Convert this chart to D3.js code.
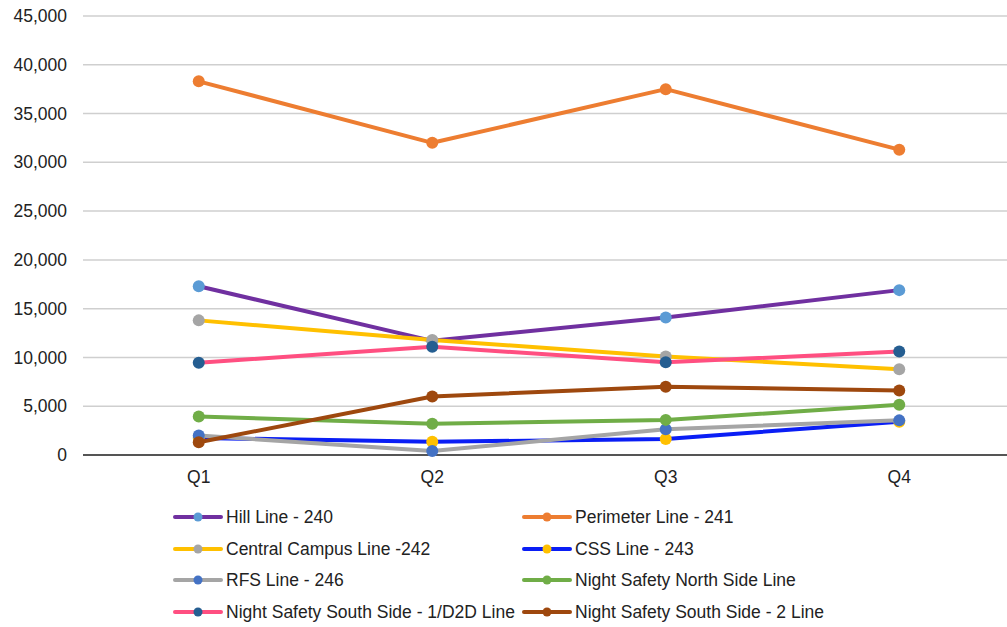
<!DOCTYPE html>
<html>
<head>
<meta charset="utf-8">
<script src="https://cdn.jsdelivr.net/npm/d3@7"></script>
<style>
  html, body { margin: 0; padding: 0; background: #fff; }
  svg { display: block; font-family: "Liberation Sans", Arial, sans-serif; }
</style>
</head>
<body>
<svg id="chart" width="1007" height="627"></svg>
<script>
const categories = ["Q1", "Q2", "Q3", "Q4"];
const seriesNames = [
  "Hill Line - 240",
  "Perimeter Line - 241",
  "Central Campus Line -242",
  "CSS Line - 243",
  "RFS Line - 246",
  "Night Safety North Side Line",
  "Night Safety South Side - 1/D2D Line",
  "Night Safety South Side - 2 Line"
];
const hillValues = [17300, 11700, 14100, 16900];
const perimeterValues = [38300, 32000, 37500, 31300];
const centralValues = [13800, 11800, 10100, 8800];
const cssValues = [1750, 1350, 1650, 3400];
const rfsValues = [2000, 400, 2650, 3550];
const northValues = [3950, 3200, 3600, 5150];
const south1Values = [9450, 11100, 9500, 10600];
const south2Values = [1300, 6000, 7000, 6600];
const yTicks = [0, 5000, 10000, 15000, 20000, 25000, 30000, 35000, 40000, 45000];

const lineColors = ["#7030a0", "#ed7d31", "#ffc000", "#0a1ef5", "#a5a5a5", "#70ad47", "#ff4f81", "#9e480e"];
const markerColors = ["#5b9bd5", "#ed7d31", "#a5a5a5", "#ffc000", "#4472c4", "#70ad47", "#255e91", "#9e480e"];
const allValues = [hillValues, perimeterValues, centralValues, cssValues, rfsValues, northValues, south1Values, south2Values];

const series = seriesNames.map((name, i) => ({ name, values: allValues[i], line: lineColors[i], marker: markerColors[i] }));

const svg = d3.select("#chart");
const x = d3.scaleBand().domain(categories).range([82, 1016]);
const y = d3.scaleLinear().domain([0, 45000]).range([455, 16]);
const FS = 17.5;

// gridlines
svg.append("g").selectAll("line").data(yTicks.filter(d => d > 0)).join("line")
  .attr("x1", 83).attr("x2", 1007)
  .attr("y1", d => y(d)).attr("y2", d => y(d))
  .attr("stroke", "#cfcfcf").attr("stroke-width", 1.5);

// y axis labels
const yAxis = d3.axisLeft(y).tickValues(yTicks).tickFormat(d3.format(",")).tickSize(0).tickPadding(0);
const yg = svg.append("g").attr("transform", "translate(67,0)").call(yAxis);
yg.select(".domain").remove();
yg.selectAll("text").attr("font-size", FS).attr("fill", "#222").attr("font-family", "Liberation Sans, Arial, sans-serif");

// baseline
svg.append("line").attr("x1", 83).attr("x2", 1007).attr("y1", y(0)).attr("y2", y(0))
  .attr("stroke", "#555").attr("stroke-width", 2);

// x axis labels
const xAxis = d3.axisBottom(x).tickSize(0).tickPadding(0);
const xg = svg.append("g").attr("transform", "translate(0,477)").call(xAxis);
xg.select(".domain").remove();
xg.selectAll("text").attr("font-size", FS).attr("fill", "#222").attr("dy", "0.35em").attr("font-family", "Liberation Sans, Arial, sans-serif");

const line = d3.line().x((d, i) => x(categories[i]) + x.bandwidth() / 2).y(d => y(d));

const sg = svg.append("g").selectAll("g").data(series).join("g");
sg.append("path")
  .attr("d", d => line(d.values))
  .attr("fill", "none").attr("stroke", d => d.line).attr("stroke-width", 4)
  .attr("stroke-linejoin", "round").attr("stroke-linecap", "round");
sg.selectAll("circle").data(d => d.values.map((v, i) => ({ v, i, c: d.marker }))).join("circle")
  .attr("cx", d => x(categories[d.i]) + x.bandwidth() / 2)
  .attr("cy", d => y(d.v)).attr("r", 6).attr("fill", d => d.c);

// legend
const legCols = [175, 524];
const legRows = [517, 549, 580, 612];
const lg = svg.append("g").selectAll("g").data(series).join("g")
  .attr("transform", (d, i) => `translate(${legCols[i % 2]},${legRows[Math.floor(i / 2)]})`);
lg.append("line").attr("x1", 0).attr("x2", 46).attr("y1", 0).attr("y2", 0)
  .attr("stroke", d => d.line).attr("stroke-width", 4).attr("stroke-linecap", "round");
lg.append("circle").attr("cx", 23).attr("cy", 0).attr("r", 4.5).attr("fill", d => d.marker);
lg.append("text").attr("x", 51).attr("y", 0).attr("dy", "0.35em")
  .attr("font-size", FS).attr("fill", "#222").text(d => d.name);
</script>
</body>
</html>
